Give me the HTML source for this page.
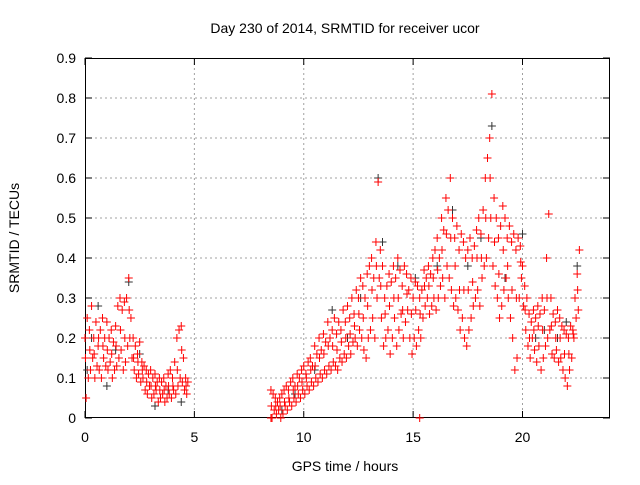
<!DOCTYPE html>
<html><head><meta charset="utf-8"><style>
body{margin:0;background:#fff;}
svg text{font-family:"Liberation Sans",sans-serif;font-size:14px;fill:#000;}
</style></head><body>
<svg id="chart" width="640" height="480">
<g id="grid"></g>
<g id="axes"></g>
<g id="marks"></g>
<text x="345" y="33" text-anchor="middle">Day 230 of 2014, SRMTID for receiver ucor</text>
<text x="345" y="471" text-anchor="middle">GPS time / hours</text>
<text x="0" y="0" text-anchor="middle" transform="translate(19,238) rotate(-90)">SRMTID / TECUs</text>
</svg>
<script>
const xTicks=[0,5,10,15,20];
const yTicks=[0,0.1,0.2,0.3,0.4,0.5,0.6,0.7,0.8,0.9];
const yTickLabels=["0","0.1","0.2","0.3","0.4","0.5","0.6","0.7","0.8","0.9"];
const blackPoints=[[0.1,0.12],[0.3,0.2],[0.6,0.28],[1.0,0.08],[1.4,0.17],[2.0,0.34],[2.5,0.16],[3.2,0.03],[3.8,0.07],[4.4,0.04],[9.0,0.02],[9.6,0.06],[10.5,0.12],[11.3,0.27],[12.0,0.2],[12.6,0.3],[13.4,0.6],[13.6,0.44],[14.3,0.38],[15.1,0.35],[16.1,0.38],[16.8,0.52],[17.5,0.38],[18.1,0.45],[18.6,0.73],[19.2,0.35],[20.0,0.46],[20.6,0.2],[21.0,0.22],[21.6,0.2],[22.0,0.24],[22.5,0.38]];
const redUpper=[[0.0,0.2],[0.1,0.25],[0.2,0.22],[0.3,0.28],[0.4,0.2],[0.5,0.24],[0.6,0.18],[0.7,0.22],[0.8,0.25],[0.9,0.2],[1.0,0.24],[1.1,0.2],[1.2,0.22],[1.3,0.19],[1.4,0.23],[1.5,0.28],[1.6,0.3],[1.7,0.27],[1.8,0.29],[1.9,0.3],[2.0,0.35],[2.1,0.25],[2.2,0.2],[2.3,0.18],[2.4,0.16],[2.5,0.19],[2.6,0.14],[2.7,0.13],[2.8,0.12],[2.9,0.11],[3.0,0.12],[3.1,0.1],[3.2,0.11],[3.3,0.09],[3.4,0.1],[3.5,0.09],[3.6,0.1],[3.7,0.08],[3.8,0.11],[3.9,0.12],[4.0,0.1],[4.1,0.14],[4.2,0.2],[4.3,0.22],[4.4,0.23],[4.5,0.15],[4.6,0.1],[4.7,0.09],
[8.5,0.07],[8.6,0.06],[8.7,0.05],[8.8,0.04],[8.9,0.05],[9.0,0.06],[9.1,0.07],[9.2,0.08],[9.3,0.07],[9.4,0.09],[9.5,0.1],[9.6,0.08],[9.7,0.11],[9.8,0.1],[9.9,0.12],[10.0,0.13],[10.1,0.11],[10.2,0.14],[10.3,0.15],[10.4,0.13],[10.5,0.18],[10.6,0.16],[10.7,0.2],[10.8,0.17],[10.9,0.21],[11.0,0.19],[11.1,0.24],[11.2,0.2],[11.3,0.22],[11.4,0.25],[11.5,0.21],[11.6,0.24],[11.7,0.22],[11.8,0.27],[11.9,0.24],[12.0,0.28],[12.1,0.25],[12.2,0.3],[12.3,0.26],[12.4,0.32],[12.5,0.3],[12.6,0.35],[12.7,0.33],[12.8,0.3],[12.9,0.36],[13.0,0.38],[13.1,0.4],[13.2,0.35],[13.3,0.44],[13.4,0.59],[13.5,0.42],[13.6,0.38],[13.7,0.3],[13.8,0.33],[13.9,0.36],[14.0,0.34],[14.1,0.38],[14.2,0.35],[14.3,0.4],[14.4,0.37],[14.5,0.33],[14.6,0.38],[14.7,0.36],[14.8,0.32],[14.9,0.35],[15.0,0.3],[15.1,0.34],[15.2,0.33],[15.3,0.3],[15.4,0.32],[15.5,0.37],[15.6,0.35],[15.7,0.38],[15.8,0.36],[15.9,0.4],[16.0,0.42],[16.1,0.45],[16.2,0.4],[16.3,0.5],[16.4,0.47],[16.5,0.55],[16.6,0.52],[16.7,0.6],[16.8,0.5],[16.9,0.45],[17.0,0.48],[17.1,0.42],[17.2,0.46],[17.3,0.44],[17.4,0.4],[17.5,0.42],[17.6,0.45],[17.7,0.4],[17.8,0.43],[17.9,0.47],[18.0,0.5],[18.1,0.46],[18.2,0.52],[18.3,0.6],[18.4,0.65],[18.5,0.7],[18.6,0.81],[18.7,0.55],[18.8,0.5],[18.9,0.45],[19.0,0.48],[19.1,0.53],[19.2,0.5],[19.3,0.45],[19.4,0.48],[19.5,0.44],[19.6,0.46],[19.7,0.42],[19.8,0.45],[19.9,0.43],[20.0,0.38],[20.1,0.33],[20.2,0.3],[20.3,0.26],[20.4,0.24],[20.5,0.27],[20.6,0.25],[20.7,0.28],[20.8,0.26],[20.9,0.3],[21.0,0.27],[21.1,0.4],[21.2,0.51],[21.3,0.3],[21.4,0.26],[21.5,0.24],[21.6,0.27],[21.7,0.25],[21.8,0.23],[21.9,0.22],[22.0,0.21],[22.1,0.2],[22.2,0.23],[22.3,0.22],[22.4,0.3],[22.5,0.36],[22.6,0.42]];
const redLower=[[0.05,0.05],[0.15,0.1],[0.25,0.12],[0.35,0.15],[0.45,0.1],[0.55,0.13],[0.65,0.12],[0.75,0.1],[0.85,0.15],[0.95,0.13],[1.05,0.12],[1.15,0.14],[1.25,0.1],[1.35,0.12],[1.45,0.13],[1.55,0.15],[1.65,0.17],[1.75,0.12],[1.85,0.14],[1.95,0.18],[2.05,0.2],[2.15,0.15],[2.25,0.12],[2.35,0.1],[2.45,0.11],[2.55,0.09],[2.65,0.1],[2.75,0.07],[2.85,0.06],[2.95,0.08],[3.05,0.05],[3.15,0.06],[3.25,0.07],[3.35,0.04],[3.45,0.05],[3.55,0.06],[3.65,0.04],[3.75,0.05],[3.85,0.06],[3.95,0.05],[4.05,0.07],[4.15,0.06],[4.25,0.08],[4.35,0.1],[4.45,0.09],[4.55,0.07],[4.65,0.06],
[8.5,0.0],[8.55,0.0],[8.65,0.02],[8.75,0.01],[8.85,0.02],[8.95,0.0],[9.05,0.01],[9.15,0.03],[9.25,0.02],[9.35,0.04],[9.45,0.03],[9.55,0.05],[9.65,0.04],[9.75,0.06],[9.85,0.05],[9.95,0.07],[10.05,0.06],[10.15,0.08],[10.25,0.07],[10.35,0.09],[10.45,0.08],[10.55,0.1],[10.65,0.09],[10.75,0.11],[10.85,0.1],[10.95,0.12],[11.05,0.11],[11.15,0.13],[11.25,0.12],[11.35,0.14],[11.45,0.13],[11.55,0.12],[11.65,0.15],[11.75,0.14],[11.85,0.16],[11.95,0.15],[12.05,0.18],[12.15,0.16],[12.25,0.19],[12.35,0.2],[12.45,0.18],[12.55,0.22],[12.65,0.2],[12.75,0.17],[12.85,0.15],[12.95,0.2],[13.05,0.22],[13.15,0.25],[13.25,0.2],[13.35,0.3],[13.45,0.35],[13.55,0.25],[13.65,0.18],[13.75,0.2],[13.85,0.22],[13.95,0.16],[14.05,0.2],[14.15,0.25],[14.25,0.18],[14.35,0.22],[14.45,0.26],[14.55,0.2],[14.65,0.24],[14.75,0.27],[14.85,0.2],[14.95,0.16],[15.05,0.2],[15.15,0.18],[15.25,0.22],[15.3,0.0],[15.35,0.2],[15.45,0.25],[15.55,0.28],[15.65,0.3],[15.75,0.26],[15.85,0.28],[15.95,0.3],[16.05,0.27],[16.15,0.3],[16.25,0.33],[16.35,0.35],[16.45,0.3],[16.55,0.38],[16.65,0.35],[16.75,0.32],[16.85,0.28],[16.95,0.3],[17.05,0.27],[17.15,0.22],[17.25,0.25],[17.35,0.2],[17.45,0.18],[17.55,0.22],[17.65,0.25],[17.75,0.28],[17.85,0.3],[17.95,0.32],[18.05,0.28],[18.15,0.35],[18.25,0.38],[18.35,0.4],[18.45,0.45],[18.55,0.5],[18.65,0.38],[18.75,0.33],[18.85,0.3],[18.95,0.25],[19.05,0.28],[19.15,0.32],[19.25,0.35],[19.35,0.3],[19.45,0.25],[19.55,0.2],[19.65,0.12],[19.75,0.15],[19.85,0.3],[19.95,0.35],[20.05,0.28],[20.15,0.22],[20.25,0.18],[20.35,0.15],[20.45,0.2],[20.55,0.17],[20.65,0.14],[20.75,0.18],[20.85,0.12],[20.95,0.15],[21.05,0.18],[21.15,0.2],[21.25,0.22],[21.35,0.16],[21.45,0.15],[21.55,0.17],[21.65,0.14],[21.75,0.15],[21.85,0.12],[21.95,0.1],[22.05,0.08],[22.15,0.12],[22.25,0.15],[22.35,0.2],[22.45,0.25],[22.55,0.27]];
const redMid=[[0.02,0.15],[0.22,0.17],[0.42,0.16],[0.62,0.2],[0.82,0.18],[1.02,0.17],[1.22,0.16],[1.42,0.18],[1.62,0.22],[1.82,0.2],[2.02,0.27],[2.22,0.15],[2.42,0.14],[2.62,0.12],[2.82,0.09],[3.02,0.08],[3.22,0.08],[3.42,0.07],[3.62,0.07],[3.82,0.08],[4.02,0.08],[4.22,0.12],[4.42,0.17],[4.62,0.08],
[8.52,0.03],[8.72,0.03],[8.92,0.03],[9.12,0.04],[9.32,0.05],[9.52,0.07],[9.72,0.08],[9.92,0.09],[10.12,0.1],[10.32,0.12],[10.52,0.13],[10.72,0.15],[10.92,0.16],[11.12,0.18],[11.32,0.18],[11.52,0.17],[11.72,0.19],[11.92,0.2],[12.12,0.21],[12.32,0.23],[12.52,0.26],[12.72,0.25],[12.92,0.28],[13.12,0.32],[13.32,0.38],[13.52,0.33],[13.72,0.26],[13.92,0.28],[14.12,0.3],[14.32,0.3],[14.52,0.27],[14.72,0.31],[14.92,0.26],[15.12,0.27],[15.32,0.26],[15.52,0.33],[15.72,0.33],[15.92,0.35],[16.12,0.37],[16.32,0.42],[16.52,0.46],[16.72,0.45],[16.92,0.38],[17.12,0.32],[17.32,0.32],[17.52,0.32],[17.72,0.34],[17.92,0.4],[18.12,0.4],[18.32,0.5],[18.52,0.6],[18.72,0.44],[18.92,0.36],[19.12,0.42],[19.32,0.38],[19.52,0.32],[19.72,0.3],[19.92,0.39],[20.12,0.27],[20.32,0.2],[20.52,0.22],[20.72,0.23],[20.92,0.22],[21.12,0.3],[21.32,0.23],[21.52,0.2],[21.72,0.2],[21.92,0.16],[22.12,0.16],[22.32,0.21],[22.52,0.32]];

const NS="http://www.w3.org/2000/svg";
const L=85,R=610,T=58,B=418,XMAX=24,YMAX=0.9;
function xs(v){return L+(R-L)*v/XMAX;}
function ys(v){return B-(B-T)*v/YMAX;}
function mk(tag,attrs,parent){const e=document.createElementNS(NS,tag);for(const k in attrs)e.setAttribute(k,attrs[k]);parent.appendChild(e);return e;}
const grid=document.getElementById('grid'),axes=document.getElementById('axes'),marks=document.getElementById('marks');
yTicks.forEach((t,i)=>{
  const y=ys(t);
  if(i>0&&i<yTicks.length-1){const g=mk('line',{x1:L,x2:R,y1:y,y2:y,stroke:'#a0a0a0','stroke-dasharray':'2,3','stroke-width':1},grid);
  
  }
  mk('line',{x1:L,x2:L+7,y1:y,y2:y,stroke:'#000'},axes);
  mk('line',{x1:R,x2:R-7,y1:y,y2:y,stroke:'#000'},axes);
  const tx=mk('text',{x:L-9,y:y+5,'text-anchor':'end'},axes);
  tx.textContent=yTickLabels[i];
  
  
});
xTicks.forEach(t=>{
  const x=xs(t);
  if(t>0){const g=mk('line',{x1:x,x2:x,y1:T,y2:B,stroke:'#a0a0a0','stroke-dasharray':'2,3','stroke-width':1},grid);
  
  }
  mk('line',{x1:x,x2:x,y1:B,y2:B-7,stroke:'#000'},axes);
  mk('line',{x1:x,x2:x,y1:T,y2:T+7,stroke:'#000'},axes);
  const tx=mk('text',{x:x,y:B+24,'text-anchor':'middle'},axes);
  tx.textContent=String(t);
  
  
});
const frame=mk('rect',{x:L+0.5,y:T+0.5,width:R-L-1,height:B-T-1,fill:'none',stroke:'#000'},axes);


function plus(p,color,name){
  const x=xs(p[0]),y=ys(p[1]);
  const e=mk('path',{d:`M${x-4},${y}H${x+4}M${x},${y-4}V${y+4}`,stroke:color,'stroke-width':1,fill:'none'},marks);
  
  
}
blackPoints.forEach(p=>plus(p,'#333','black-point'));
redUpper.forEach(p=>plus(p,'#ff0000','red-point'));
redLower.forEach(p=>plus(p,'#ff0000','red-point'));
redMid.forEach(p=>plus(p,'#ff0000','red-point'));
</script>
</body></html>
